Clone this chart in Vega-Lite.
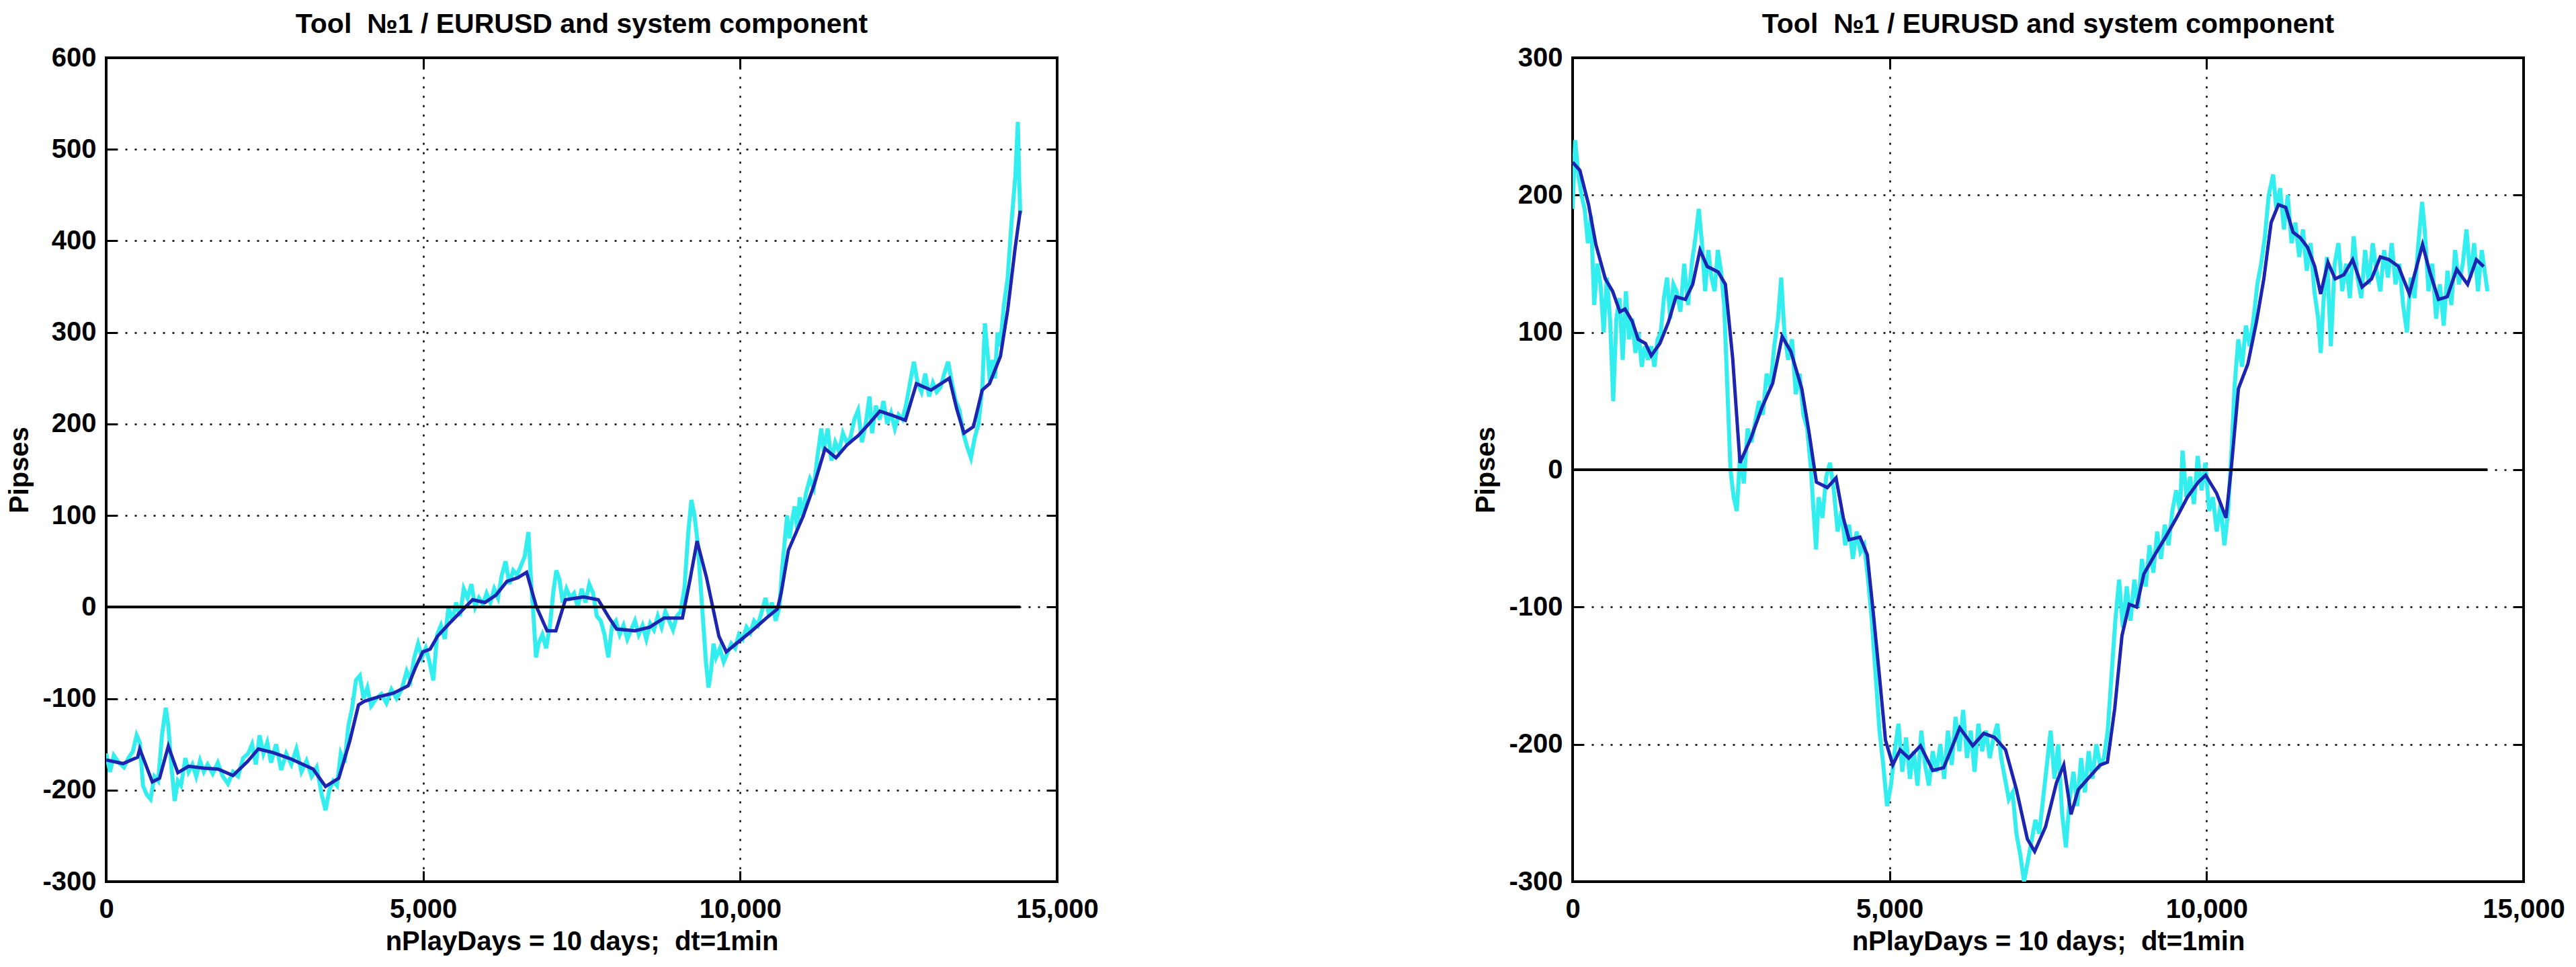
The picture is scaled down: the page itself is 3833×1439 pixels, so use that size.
{
  "$schema": "https://vega.github.io/schema/vega-lite/v6.json",
  "background": "white",
  "padding": {"left": 7, "top": 14, "right": 5, "bottom": 5},
  "config": {
    "font": "Liberation Sans",
    "view": {"stroke": "black", "strokeWidth": 4},
    "axis": {
      "labelFont": "Liberation Sans", "labelFontSize": 40, "labelFontWeight": "bold", "labelColor": "black",
      "titleFont": "Liberation Sans", "titleFontSize": 40, "titleFontWeight": "bold", "titleColor": "black",
      "domain": false, "tickColor": "black", "tickSize": -16, "tickWidth": 3,
      "gridColor": "black", "gridDash": [3, 11], "gridWidth": 2.5, "gridOpacity": 1,
      "labelOverlap": false, "labelFlush": false, "labelBound": false
    },
    "title": {"font": "Liberation Sans", "fontSize": 41, "fontWeight": "bold", "color": "black", "anchor": "middle", "baseline": "alphabetic", "offset": 8}
  },
  "datasets": {
    "zl": [{"x": 0, "y": 0}, {"x": 14418, "y": 0}],
    "zr": [{"x": 0, "y": 0}, {"x": 14430, "y": 0}],
    "lsm": [
      {"x":0,"y":-167},{"x":265,"y":-171},{"x":496,"y":-164},{"x":530,"y":-155},{"x":727,"y":-191},{"x":842,"y":-187},{"x":980,"y":-152},{"x":1130,"y":-181},{"x":1300,"y":-174},{"x":1534,"y":-176},{"x":1765,"y":-177},{"x":2000,"y":-184},{"x":2226,"y":-169},{"x":2400,"y":-155},{"x":2630,"y":-159},{"x":2918,"y":-166},{"x":3264,"y":-177},{"x":3460,"y":-196},{"x":3668,"y":-187},{"x":3840,"y":-147},{"x":3980,"y":-107},{"x":4071,"y":-103},{"x":4300,"y":-98},{"x":4533,"y":-94},{"x":4763,"y":-86},{"x":4879,"y":-66},{"x":4994,"y":-49},{"x":5110,"y":-46},{"x":5225,"y":-32},{"x":5398,"y":-19},{"x":5594,"y":-5},{"x":5779,"y":8},{"x":5975,"y":5},{"x":6148,"y":13},{"x":6321,"y":28},{"x":6494,"y":32},{"x":6632,"y":38},{"x":6782,"y":1},{"x":6955,"y":-26},{"x":7093,"y":-26},{"x":7243,"y":8},{"x":7532,"y":11},{"x":7762,"y":8},{"x":7935,"y":-12},{"x":8051,"y":-24},{"x":8339,"y":-26},{"x":8570,"y":-22},{"x":8800,"y":-12},{"x":9089,"y":-12},{"x":9204,"y":28},{"x":9320,"y":72},{"x":9470,"y":32},{"x":9665,"y":-32},{"x":9781,"y":-49},{"x":9954,"y":-39},{"x":10185,"y":-26},{"x":10415,"y":-12},{"x":10588,"y":-2},{"x":10646,"y":15},{"x":10761,"y":62},{"x":10992,"y":99},{"x":11165,"y":133},{"x":11338,"y":173},{"x":11511,"y":163},{"x":11684,"y":177},{"x":11857,"y":187},{"x":12030,"y":200},{"x":12203,"y":214},{"x":12376,"y":210},{"x":12607,"y":204},{"x":12780,"y":244},{"x":13010,"y":237},{"x":13300,"y":250},{"x":13414,"y":217},{"x":13529,"y":190},{"x":13679,"y":197},{"x":13818,"y":237},{"x":13933,"y":244},{"x":14106,"y":274},{"x":14221,"y":325},{"x":14337,"y":392},{"x":14418,"y":433}
    ],
    "lraw": [
      {"x":0,"y":-160},{"x":60,"y":-180},{"x":120,"y":-162},{"x":200,"y":-170},{"x":280,"y":-175},{"x":350,"y":-165},{"x":420,"y":-158},{"x":480,"y":-140},{"x":530,"y":-148},{"x":580,"y":-195},{"x":640,"y":-205},{"x":700,"y":-210},{"x":760,"y":-185},{"x":820,"y":-190},{"x":880,"y":-140},{"x":940,"y":-110},{"x":980,"y":-130},{"x":1030,"y":-175},{"x":1080,"y":-212},{"x":1130,"y":-190},{"x":1180,"y":-195},{"x":1250,"y":-165},{"x":1300,"y":-180},{"x":1360,"y":-172},{"x":1420,"y":-185},{"x":1480,"y":-168},{"x":1540,"y":-180},{"x":1600,"y":-172},{"x":1680,"y":-182},{"x":1760,"y":-170},{"x":1840,"y":-185},{"x":1920,"y":-193},{"x":2000,"y":-180},{"x":2080,"y":-185},{"x":2160,"y":-165},{"x":2240,"y":-160},{"x":2300,"y":-150},{"x":2360,"y":-172},{"x":2420,"y":-140},{"x":2480,"y":-160},{"x":2540,"y":-148},{"x":2600,"y":-170},{"x":2680,"y":-150},{"x":2760,"y":-178},{"x":2840,"y":-160},{"x":2920,"y":-172},{"x":3000,"y":-155},{"x":3080,"y":-180},{"x":3160,"y":-168},{"x":3240,"y":-185},{"x":3320,"y":-175},{"x":3400,"y":-205},{"x":3460,"y":-222},{"x":3520,"y":-200},{"x":3580,"y":-190},{"x":3640,"y":-195},{"x":3700,"y":-160},{"x":3760,"y":-170},{"x":3820,"y":-130},{"x":3880,"y":-110},{"x":3940,"y":-80},{"x":4000,"y":-75},{"x":4060,"y":-100},{"x":4120,"y":-88},{"x":4180,"y":-108},{"x":4260,"y":-100},{"x":4340,"y":-95},{"x":4420,"y":-105},{"x":4500,"y":-90},{"x":4580,"y":-100},{"x":4660,"y":-90},{"x":4740,"y":-70},{"x":4800,"y":-80},{"x":4860,"y":-55},{"x":4920,"y":-40},{"x":4980,"y":-55},{"x":5040,"y":-45},{"x":5100,"y":-60},{"x":5160,"y":-80},{"x":5220,"y":-30},{"x":5280,"y":-20},{"x":5340,"y":-35},{"x":5400,"y":0},{"x":5460,"y":-15},{"x":5520,"y":5},{"x":5580,"y":-10},{"x":5640,"y":20},{"x":5700,"y":10},{"x":5760,"y":25},{"x":5820,"y":0},{"x":5880,"y":10},{"x":5940,"y":3},{"x":6000,"y":15},{"x":6060,"y":5},{"x":6120,"y":20},{"x":6180,"y":10},{"x":6240,"y":35},{"x":6300,"y":50},{"x":6360,"y":25},{"x":6420,"y":40},{"x":6480,"y":35},{"x":6540,"y":45},{"x":6600,"y":55},{"x":6660,"y":82},{"x":6700,"y":30},{"x":6740,"y":-10},{"x":6780,"y":-55},{"x":6820,"y":-40},{"x":6880,"y":-30},{"x":6940,"y":-45},{"x":7000,"y":-20},{"x":7050,"y":15},{"x":7100,"y":40},{"x":7150,"y":30},{"x":7200,"y":5},{"x":7260,"y":20},{"x":7320,"y":10},{"x":7380,"y":15},{"x":7440,"y":0},{"x":7500,"y":20},{"x":7560,"y":5},{"x":7620,"y":25},{"x":7680,"y":15},{"x":7740,"y":-10},{"x":7800,"y":-15},{"x":7860,"y":-30},{"x":7920,"y":-55},{"x":7980,"y":-20},{"x":8040,"y":-15},{"x":8100,"y":-30},{"x":8160,"y":-20},{"x":8220,"y":-35},{"x":8280,"y":-25},{"x":8340,"y":-15},{"x":8400,"y":-30},{"x":8460,"y":-20},{"x":8520,"y":-35},{"x":8580,"y":-18},{"x":8640,"y":-25},{"x":8700,"y":-10},{"x":8760,"y":-22},{"x":8820,"y":-5},{"x":8880,"y":-15},{"x":8940,"y":-25},{"x":9000,"y":-10},{"x":9060,"y":-5},{"x":9120,"y":20},{"x":9180,"y":80},{"x":9230,"y":117},{"x":9280,"y":100},{"x":9330,"y":70},{"x":9380,"y":20},{"x":9420,"y":-20},{"x":9460,"y":-60},{"x":9500,"y":-88},{"x":9540,"y":-70},{"x":9580,"y":-40},{"x":9620,"y":-55},{"x":9680,"y":-45},{"x":9740,"y":-60},{"x":9800,"y":-50},{"x":9860,"y":-40},{"x":9920,"y":-45},{"x":9980,"y":-30},{"x":10040,"y":-35},{"x":10100,"y":-22},{"x":10160,"y":-28},{"x":10220,"y":-15},{"x":10280,"y":-20},{"x":10340,"y":-5},{"x":10400,"y":10},{"x":10460,"y":-10},{"x":10500,"y":5},{"x":10560,"y":-15},{"x":10620,"y":0},{"x":10660,"y":40},{"x":10700,"y":70},{"x":10740,"y":100},{"x":10780,"y":75},{"x":10820,"y":95},{"x":10860,"y":110},{"x":10900,"y":85},{"x":10940,"y":120},{"x":10980,"y":100},{"x":11040,"y":125},{"x":11100,"y":140},{"x":11160,"y":130},{"x":11220,"y":165},{"x":11280,"y":195},{"x":11320,"y":170},{"x":11380,"y":195},{"x":11440,"y":160},{"x":11500,"y":180},{"x":11560,"y":170},{"x":11620,"y":190},{"x":11680,"y":180},{"x":11740,"y":185},{"x":11800,"y":205},{"x":11860,"y":215},{"x":11920,"y":180},{"x":11980,"y":200},{"x":12040,"y":230},{"x":12080,"y":190},{"x":12140,"y":220},{"x":12200,"y":205},{"x":12260,"y":225},{"x":12320,"y":200},{"x":12380,"y":212},{"x":12440,"y":195},{"x":12500,"y":210},{"x":12560,"y":205},{"x":12620,"y":222},{"x":12680,"y":245},{"x":12740,"y":268},{"x":12800,"y":245},{"x":12860,"y":235},{"x":12920,"y":255},{"x":12980,"y":230},{"x":13040,"y":245},{"x":13100,"y":235},{"x":13160,"y":240},{"x":13220,"y":255},{"x":13280,"y":268},{"x":13340,"y":245},{"x":13400,"y":225},{"x":13460,"y":215},{"x":13520,"y":190},{"x":13580,"y":175},{"x":13640,"y":163},{"x":13700,"y":185},{"x":13760,"y":200},{"x":13820,"y":240},{"x":13860,"y":310},{"x":13900,"y":280},{"x":13940,"y":245},{"x":13980,"y":270},{"x":14020,"y":250},{"x":14060,"y":300},{"x":14100,"y":285},{"x":14160,"y":330},{"x":14220,"y":360},{"x":14280,"y":420},{"x":14340,"y":470},{"x":14380,"y":530},{"x":14400,"y":470},{"x":14418,"y":430}
    ],
    "rsm": [
      {"x":0,"y":224},{"x":115,"y":218},{"x":252,"y":193},{"x":367,"y":164},{"x":516,"y":139},{"x":631,"y":130},{"x":746,"y":115},{"x":826,"y":117},{"x":941,"y":108},{"x":1033,"y":95},{"x":1148,"y":92},{"x":1240,"y":83},{"x":1377,"y":92},{"x":1515,"y":108},{"x":1630,"y":126},{"x":1779,"y":124},{"x":1894,"y":135},{"x":2009,"y":160},{"x":2123,"y":148},{"x":2295,"y":144},{"x":2410,"y":135},{"x":2525,"y":81},{"x":2640,"y":5},{"x":2812,"y":23},{"x":2984,"y":45},{"x":3156,"y":63},{"x":3305,"y":97},{"x":3443,"y":86},{"x":3615,"y":59},{"x":3730,"y":27},{"x":3845,"y":-9},{"x":4017,"y":-13},{"x":4155,"y":-6},{"x":4270,"y":-35},{"x":4361,"y":-51},{"x":4533,"y":-49},{"x":4648,"y":-62},{"x":4740,"y":-103},{"x":4843,"y":-152},{"x":4935,"y":-197},{"x":5050,"y":-215},{"x":5165,"y":-204},{"x":5302,"y":-210},{"x":5486,"y":-201},{"x":5681,"y":-219},{"x":5853,"y":-217},{"x":5968,"y":-204},{"x":6106,"y":-188},{"x":6312,"y":-201},{"x":6485,"y":-192},{"x":6657,"y":-195},{"x":6829,"y":-204},{"x":7001,"y":-233},{"x":7173,"y":-269},{"x":7288,"y":-278},{"x":7460,"y":-260},{"x":7632,"y":-228},{"x":7747,"y":-215},{"x":7862,"y":-251},{"x":7976,"y":-233},{"x":8149,"y":-224},{"x":8321,"y":-215},{"x":8436,"y":-213},{"x":8551,"y":-174},{"x":8665,"y":-121},{"x":8780,"y":-98},{"x":8895,"y":-100},{"x":9010,"y":-76},{"x":9182,"y":-62},{"x":9354,"y":-49},{"x":9526,"y":-35},{"x":9698,"y":-20},{"x":9870,"y":-9},{"x":9985,"y":-4},{"x":10157,"y":-17},{"x":10306,"y":-35},{"x":10387,"y":0},{"x":10502,"y":59},{"x":10651,"y":77},{"x":10788,"y":108},{"x":10903,"y":139},{"x":11018,"y":180},{"x":11133,"y":193},{"x":11248,"y":191},{"x":11363,"y":173},{"x":11477,"y":169},{"x":11592,"y":162},{"x":11707,"y":148},{"x":11799,"y":128},{"x":11914,"y":151},{"x":12028,"y":139},{"x":12166,"y":142},{"x":12304,"y":153},{"x":12453,"y":133},{"x":12602,"y":139},{"x":12740,"y":155},{"x":12877,"y":153},{"x":13027,"y":148},{"x":13199,"y":128},{"x":13406,"y":164},{"x":13521,"y":144},{"x":13658,"y":124},{"x":13796,"y":126},{"x":13945,"y":146},{"x":14117,"y":135},{"x":14255,"y":153},{"x":14370,"y":148}
    ],
    "rraw": [
      {"x":0,"y":190},{"x":40,"y":240},{"x":90,"y":215},{"x":140,"y":200},{"x":190,"y":190},{"x":240,"y":165},{"x":290,"y":185},{"x":340,"y":120},{"x":390,"y":150},{"x":440,"y":135},{"x":490,"y":100},{"x":540,"y":140},{"x":590,"y":110},{"x":640,"y":50},{"x":690,"y":110},{"x":740,"y":125},{"x":790,"y":80},{"x":840,"y":130},{"x":890,"y":95},{"x":940,"y":110},{"x":990,"y":85},{"x":1040,"y":100},{"x":1090,"y":75},{"x":1140,"y":90},{"x":1190,"y":80},{"x":1240,"y":90},{"x":1290,"y":75},{"x":1340,"y":95},{"x":1390,"y":100},{"x":1440,"y":125},{"x":1490,"y":140},{"x":1540,"y":110},{"x":1590,"y":135},{"x":1640,"y":130},{"x":1700,"y":115},{"x":1760,"y":150},{"x":1820,"y":120},{"x":1880,"y":150},{"x":1940,"y":170},{"x":1990,"y":190},{"x":2040,"y":165},{"x":2090,"y":130},{"x":2140,"y":160},{"x":2190,"y":140},{"x":2240,"y":130},{"x":2290,"y":160},{"x":2340,"y":145},{"x":2390,"y":120},{"x":2440,"y":60},{"x":2490,"y":0},{"x":2540,"y":-20},{"x":2590,"y":-30},{"x":2640,"y":10},{"x":2700,"y":-10},{"x":2760,"y":30},{"x":2820,"y":20},{"x":2880,"y":35},{"x":2940,"y":50},{"x":3000,"y":40},{"x":3060,"y":70},{"x":3120,"y":60},{"x":3180,"y":90},{"x":3240,"y":110},{"x":3290,"y":140},{"x":3340,"y":100},{"x":3400,"y":80},{"x":3460,"y":95},{"x":3520,"y":55},{"x":3580,"y":70},{"x":3640,"y":40},{"x":3700,"y":30},{"x":3760,"y":0},{"x":3800,"y":-30},{"x":3840,"y":-58},{"x":3880,"y":-20},{"x":3940,"y":-35},{"x":4000,"y":-5},{"x":4060,"y":5},{"x":4120,"y":-15},{"x":4180,"y":-45},{"x":4240,"y":-30},{"x":4300,"y":-55},{"x":4360,"y":-40},{"x":4420,"y":-65},{"x":4480,"y":-45},{"x":4540,"y":-60},{"x":4600,"y":-55},{"x":4660,"y":-80},{"x":4720,"y":-110},{"x":4780,"y":-150},{"x":4840,"y":-190},{"x":4900,"y":-215},{"x":4960,"y":-245},{"x":5020,"y":-230},{"x":5080,"y":-205},{"x":5140,"y":-185},{"x":5200,"y":-220},{"x":5260,"y":-195},{"x":5320,"y":-225},{"x":5380,"y":-205},{"x":5440,"y":-230},{"x":5500,"y":-190},{"x":5560,"y":-215},{"x":5620,"y":-230},{"x":5680,"y":-205},{"x":5740,"y":-220},{"x":5800,"y":-200},{"x":5860,"y":-225},{"x":5920,"y":-190},{"x":5980,"y":-215},{"x":6040,"y":-180},{"x":6100,"y":-205},{"x":6160,"y":-175},{"x":6220,"y":-210},{"x":6280,"y":-190},{"x":6340,"y":-220},{"x":6400,"y":-185},{"x":6460,"y":-205},{"x":6520,"y":-190},{"x":6580,"y":-210},{"x":6640,"y":-195},{"x":6700,"y":-185},{"x":6760,"y":-210},{"x":6820,"y":-225},{"x":6880,"y":-240},{"x":6940,"y":-235},{"x":7000,"y":-265},{"x":7060,"y":-280},{"x":7120,"y":-300},{"x":7180,"y":-285},{"x":7240,"y":-270},{"x":7300,"y":-255},{"x":7360,"y":-265},{"x":7420,"y":-240},{"x":7480,"y":-215},{"x":7540,"y":-190},{"x":7600,"y":-225},{"x":7660,"y":-200},{"x":7720,"y":-250},{"x":7780,"y":-275},{"x":7840,"y":-240},{"x":7900,"y":-220},{"x":7960,"y":-245},{"x":8020,"y":-210},{"x":8080,"y":-235},{"x":8140,"y":-205},{"x":8200,"y":-225},{"x":8260,"y":-200},{"x":8320,"y":-215},{"x":8380,"y":-210},{"x":8440,"y":-190},{"x":8500,"y":-150},{"x":8560,"y":-110},{"x":8620,"y":-80},{"x":8680,"y":-115},{"x":8740,"y":-85},{"x":8800,"y":-110},{"x":8860,"y":-80},{"x":8920,"y":-100},{"x":8980,"y":-65},{"x":9040,"y":-85},{"x":9100,"y":-55},{"x":9160,"y":-75},{"x":9220,"y":-45},{"x":9280,"y":-65},{"x":9340,"y":-40},{"x":9400,"y":-55},{"x":9460,"y":-30},{"x":9520,"y":-15},{"x":9580,"y":-30},{"x":9620,"y":14},{"x":9680,"y":-20},{"x":9740,"y":-5},{"x":9800,"y":-25},{"x":9860,"y":10},{"x":9920,"y":-15},{"x":9980,"y":5},{"x":10040,"y":-30},{"x":10100,"y":-20},{"x":10160,"y":-45},{"x":10220,"y":-25},{"x":10280,"y":-55},{"x":10340,"y":-30},{"x":10400,"y":20},{"x":10440,"y":60},{"x":10500,"y":95},{"x":10560,"y":75},{"x":10620,"y":105},{"x":10680,"y":90},{"x":10740,"y":110},{"x":10800,"y":135},{"x":10860,"y":150},{"x":10920,"y":170},{"x":10980,"y":200},{"x":11050,"y":215},{"x":11100,"y":190},{"x":11160,"y":205},{"x":11220,"y":175},{"x":11280,"y":200},{"x":11340,"y":165},{"x":11400,"y":180},{"x":11460,"y":155},{"x":11520,"y":175},{"x":11580,"y":145},{"x":11640,"y":165},{"x":11700,"y":130},{"x":11760,"y":110},{"x":11800,"y":85},{"x":11840,"y":120},{"x":11900,"y":155},{"x":11960,"y":90},{"x":12020,"y":150},{"x":12080,"y":165},{"x":12140,"y":130},{"x":12200,"y":150},{"x":12260,"y":125},{"x":12320,"y":170},{"x":12380,"y":140},{"x":12440,"y":125},{"x":12500,"y":160},{"x":12560,"y":135},{"x":12620,"y":165},{"x":12680,"y":145},{"x":12740,"y":130},{"x":12800,"y":160},{"x":12860,"y":140},{"x":12920,"y":165},{"x":12980,"y":135},{"x":13040,"y":150},{"x":13100,"y":120},{"x":13160,"y":100},{"x":13220,"y":140},{"x":13280,"y":125},{"x":13340,"y":165},{"x":13400,"y":195},{"x":13440,"y":175},{"x":13500,"y":130},{"x":13560,"y":150},{"x":13620,"y":110},{"x":13680,"y":135},{"x":13740,"y":105},{"x":13800,"y":145},{"x":13860,"y":120},{"x":13920,"y":160},{"x":13980,"y":135},{"x":14040,"y":150},{"x":14100,"y":175},{"x":14160,"y":140},{"x":14220,"y":165},{"x":14280,"y":130},{"x":14340,"y":160},{"x":14400,"y":140},{"x":14430,"y":130}
    ]
  },
  "bounds": "flush",
  "spacing": 767,
  "hconcat": [
    {
      "width": 1415,
      "height": 1226,
      "title": "Tool \u00a0№1 / EURUSD and system component",
      "resolve": {"axis": {"x": "independent", "y": "independent"}},
      "layer": [
        {
          "data": {"name": "lraw"},
          "mark": {"type": "line", "color": "#33eeee", "strokeWidth": 6, "clip": true},
          "encoding": {
            "x": {"field": "x", "type": "quantitative", "scale": {"domain": [0, 15000], "nice": false},
              "axis": {"orient": "bottom", "values": [0, 5000, 10000, 15000], "labelExpr": "format(datum.value, ',')", "grid": true, "title": "nPlayDays = 10 days; \u00a0dt=1min", "labelPadding": 37, "titlePadding": 8}},
            "y": {"field": "y", "type": "quantitative", "scale": {"domain": [-300, 600], "nice": false},
              "axis": {"orient": "left", "values": [-300, -200, -100, 0, 100, 200, 300, 400, 500, 600], "grid": true, "title": "Pipses", "labelPadding": 31, "titlePadding": 13, "labelExpr": "replace(format(datum.value, 'd'), '\u2212', '-')"}}
          }
        },
        {
          "data": {"name": "lsm"},
          "mark": {"type": "line", "color": "#1c24b0", "strokeWidth": 5},
          "encoding": {
            "x": {"field": "x", "type": "quantitative", "axis": null},
            "y": {"field": "y", "type": "quantitative", "axis": null}
          }
        },
        {
          "data": {"name": "zl"},
          "mark": {"type": "line", "color": "black", "strokeWidth": 4},
          "encoding": {
            "x": {"field": "x", "type": "quantitative", "axis": {"orient": "top", "values": [0, 5000, 10000, 15000], "labels": false, "grid": false, "title": null}},
            "y": {"field": "y", "type": "quantitative", "axis": {"orient": "right", "values": [-300, -200, -100, 0, 100, 200, 300, 400, 500, 600], "labels": false, "grid": false, "title": null}}
          }
        }
      ]
    },
    {
      "width": 1415,
      "height": 1226,
      "title": "Tool \u00a0№1 / EURUSD and system component",
      "resolve": {"axis": {"x": "independent", "y": "independent"}},
      "layer": [
        {
          "data": {"name": "rraw"},
          "mark": {"type": "line", "color": "#33eeee", "strokeWidth": 6, "clip": true},
          "encoding": {
            "x": {"field": "x", "type": "quantitative", "scale": {"domain": [0, 15000], "nice": false},
              "axis": {"orient": "bottom", "values": [0, 5000, 10000, 15000], "labelExpr": "format(datum.value, ',')", "grid": true, "title": "nPlayDays = 10 days; \u00a0dt=1min", "labelPadding": 37, "titlePadding": 8}},
            "y": {"field": "y", "type": "quantitative", "scale": {"domain": [-300, 300], "nice": false},
              "axis": {"orient": "left", "values": [-300, -200, -100, 0, 100, 200, 300], "grid": true, "title": "Pipses", "labelPadding": 31, "titlePadding": 13, "labelExpr": "replace(format(datum.value, 'd'), '\u2212', '-')"}}
          }
        },
        {
          "data": {"name": "rsm"},
          "mark": {"type": "line", "color": "#1c24b0", "strokeWidth": 5},
          "encoding": {
            "x": {"field": "x", "type": "quantitative", "axis": null},
            "y": {"field": "y", "type": "quantitative", "axis": null}
          }
        },
        {
          "data": {"name": "zr"},
          "mark": {"type": "line", "color": "black", "strokeWidth": 4},
          "encoding": {
            "x": {"field": "x", "type": "quantitative", "axis": {"orient": "top", "values": [0, 5000, 10000, 15000], "labels": false, "grid": false, "title": null}},
            "y": {"field": "y", "type": "quantitative", "axis": {"orient": "right", "values": [-300, -200, -100, 0, 100, 200, 300], "labels": false, "grid": false, "title": null}}
          }
        }
      ]
    }
  ]
}
